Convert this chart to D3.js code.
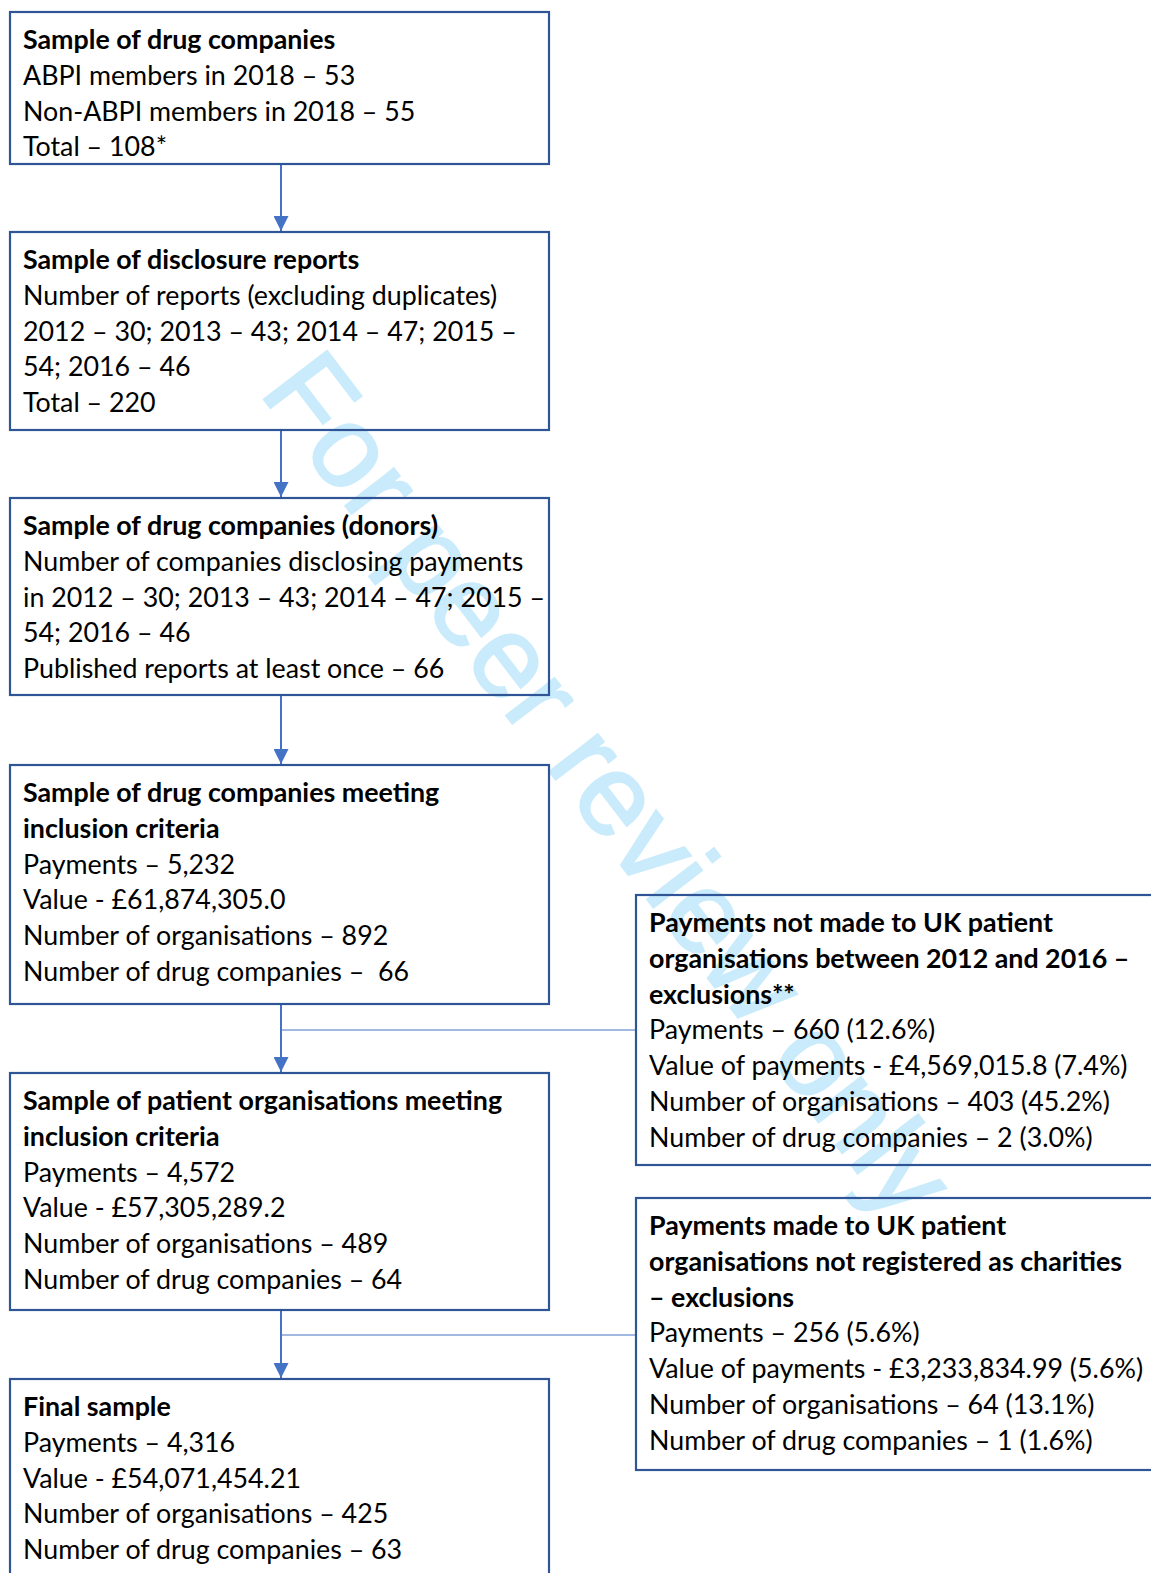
<!DOCTYPE html>
<html>
<head>
<meta charset="utf-8">
<script src="https://cdn.jsdelivr.net/npm/d3@7"></script>
<style>
html, body { margin: 0; padding: 0; background: #fff; overflow: hidden; }
</style>
</head>
<body>
<div id="chart"></div>
<script>
// box headings (bold) and body lines, top to bottom
var mainTitles = [
  ["Sample of drug companies"],
  ["Sample of disclosure reports"],
  ["Sample of drug companies (donors)"],
  ["Sample of drug companies meeting", "inclusion criteria"],
  ["Sample of patient organisations meeting", "inclusion criteria"],
  ["Final sample"]
];
var mainLines = [
  ["ABPI members in 2018 – 53", "Non-ABPI members in 2018 – 55", "Total – 108*"],
  ["Number of reports (excluding duplicates)", "2012 – 30; 2013 – 43; 2014 – 47; 2015 –", "54; 2016 – 46", "Total – 220"],
  ["Number of companies disclosing payments", "in 2012 – 30; 2013 – 43; 2014 – 47; 2015 –", "54; 2016 – 46", "Published reports at least once – 66"],
  ["Payments – 5,232", "Value - £61,874,305.0", "Number of organisations – 892", "Number of drug companies –  66"],
  ["Payments – 4,572", "Value - £57,305,289.2", "Number of organisations – 489", "Number of drug companies – 64"],
  ["Payments – 4,316", "Value - £54,071,454.21", "Number of organisations – 425", "Number of drug companies – 63"]
];
var sideTitles = [
  ["Payments not made to UK patient", "organisations between 2012 and 2016 –", "exclusions**"],
  ["Payments made to UK patient", "organisations not registered as charities", "– exclusions"]
];
var sideLines = [
  ["Payments – 660 (12.6%)", "Value of payments - £4,569,015.8 (7.4%)", "Number of organisations – 403 (45.2%)", "Number of drug companies – 2 (3.0%)"],
  ["Payments – 256 (5.6%)", "Value of payments - £3,233,834.99 (5.6%)", "Number of organisations – 64 (13.1%)", "Number of drug companies – 1 (1.6%)"]
];
var watermark = "For peer review only";

var width = 1151, height = 1573;
var fontFamily = "Lato, 'Open Sans', sans-serif";
var fontSize = 26.8, lineStep = 35.8;

// layout
var mainX = 10, mainW = 539;
var mainTop = [12, 232, 498, 765, 1073, 1379];
var mainBottom = [164, 430, 695, 1004, 1310, 1600];
var sideX = 636, sideW = 560;
var sideTop = [895, 1198];
var sideBottom = [1165, 1470];
var branchY = [1030, 1335];
var arrowX = 281;

var svg = d3.select("#chart")
  .append("svg")
  .attr("width", width)
  .attr("height", height);

var defs = svg.append("defs");
defs.append("marker")
  .attr("id", "head")
  .attr("viewBox", "0 0 10 10")
  .attr("refX", 10)
  .attr("refY", 5)
  .attr("markerWidth", 7.5)
  .attr("markerHeight", 7.5)
  .attr("markerUnits", "strokeWidth")
  .attr("orient", "auto")
  .append("path")
  .attr("d", "M0,0 L10,5 L0,10 Z")
  .attr("fill", "#4472C4");

// watermark goes underneath everything
svg.append("text")
  .attr("transform", "translate(258,392) rotate(52.5)")
  .attr("font-family", "'Liberation Sans', Arial, sans-serif")
  .attr("font-size", 116)
  .attr("fill", "#C9EBFB")
  .attr("stroke", "#C9EBFB")
  .attr("stroke-width", 2)
  .text(watermark);

// arrows between main boxes
svg.selectAll("line.arrow")
  .data(d3.range(mainTitles.length - 1))
  .enter()
  .append("line")
  .attr("class", "arrow")
  .attr("x1", arrowX)
  .attr("x2", arrowX)
  .attr("y1", i => mainBottom[i])
  .attr("y2", i => mainTop[i + 1] - 1)
  .attr("stroke", "#4472C4")
  .attr("stroke-width", 2)
  .attr("marker-end", "url(#head)");

// branch lines to exclusion boxes
svg.selectAll("line.branch")
  .data(sideTitles)
  .enter()
  .append("line")
  .attr("class", "branch")
  .attr("x1", arrowX)
  .attr("x2", sideX)
  .attr("y1", (d, i) => branchY[i])
  .attr("y2", (d, i) => branchY[i])
  .attr("stroke", "#4472C4")
  .attr("stroke-width", 1.2);

function drawBox(x, top, bottom, w, titles, lines) {
  var g = svg.append("g");
  g.append("rect")
    .attr("x", x)
    .attr("y", top)
    .attr("width", w)
    .attr("height", bottom - top)
    .attr("fill", "none")
    .attr("stroke", "#2F5597")
    .attr("stroke-width", 2.2);

  var all = titles.map(t => ({t: t, bold: true}))
    .concat(lines.map(t => ({t: t, bold: false})));

  g.selectAll("text")
    .data(all)
    .enter()
    .append("text")
    .attr("x", x + 13)
    .attr("y", (d, i) => top + 37 + i * lineStep)
    .attr("font-family", fontFamily)
    .attr("font-size", fontSize)
    .attr("font-weight", d => d.bold ? "bold" : "normal")
    .attr("fill", "#000")
    .style("white-space", "pre")
    .text(d => d.t);
}

mainTitles.forEach((t, i) => drawBox(mainX, mainTop[i], mainBottom[i], mainW, t, mainLines[i]));
sideTitles.forEach((t, i) => drawBox(sideX, sideTop[i], sideBottom[i], sideW, t, sideLines[i]));
</script>
</body>
</html>
